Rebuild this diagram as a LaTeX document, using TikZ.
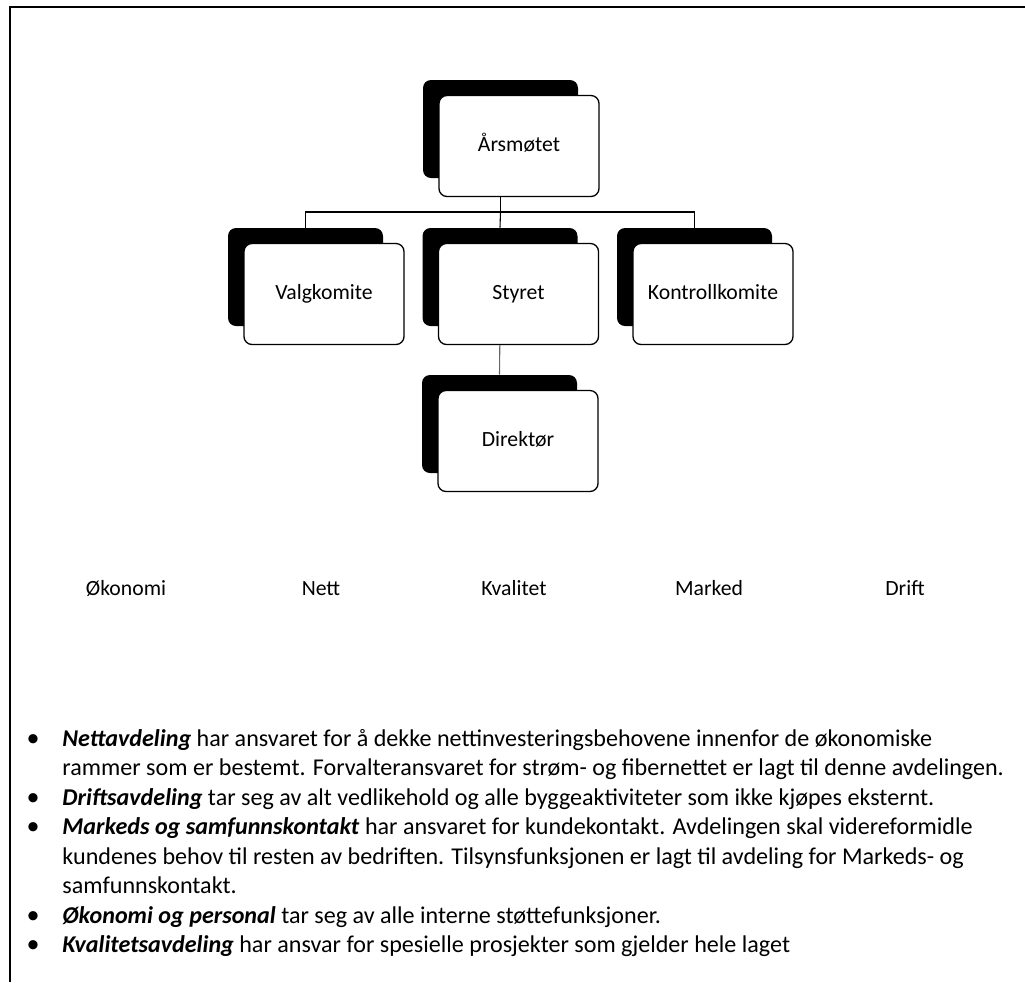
\documentclass[tikz,border=0pt]{standalone}
\usepackage{fontspec}
\setmainfont{Carlito}
\newcommand{\pxl}{0.4608pt}
\tikzset{
  skygge/.style={fill=black, rounded corners=8*\pxl, minimum width=155*\pxl, minimum height=98*\pxl, inner sep=0pt},
  boks/.style={draw=black, line width=0.6pt, fill=white, rounded corners=8*\pxl, minimum width=160*\pxl, minimum height=101*\pxl, inner sep=0pt, text height=6.8pt, text depth=2pt, font=\fontsize{10}{12}\selectfont},
  kobling/.style={line width=0.5pt},
  avd/.style={anchor=base, inner sep=0pt, font=\fontsize{10}{12}\selectfont},
  linje/.style={anchor=base west, inner sep=0pt, font=\fontsize{11.1}{13.4}\selectfont},
  prikk/.style={anchor=base, inner sep=0pt, font=\fontsize{12}{13.4}\selectfont},
}
\begin{document}
\begin{tikzpicture}[x=\pxl, y=-\pxl]
\useasboundingbox (0,0) rectangle (1025,982);
% ramme
\draw[line width=0.9pt] (10,982) -- (10,7) -- (1025,7);
% skygger
\node[skygge] (aars-s) at (500.5,129) {};
\node[skygge] (valg-s) at (305.5,277) {};
\node[skygge] (styret-s) at (500,277) {};
\node[skygge] (kontroll-s) at (694.5,277) {};
\node[skygge] (dir-s) at (499.5,424) {};
% linjer
\coordinate (grein) at (500.5,212);
\draw[kobling] (aars-s.south) -- (grein);
\draw[kobling] (valg-s.north) -- (valg-s.north |- grein) -- (kontroll-s.north |- grein) -- (kontroll-s.north);
\draw[kobling] (grein) -- (styret-s.north);
\draw[kobling, black!60] (styret-s.south) -- (dir-s.north);
% bokser
\node[boks] (aars) at (519,146) {Årsmøtet};
\node[boks] (valg) at (324,294) {Valgkomite};
\node[boks] (styret) at (518.5,294) {Styret};
\node[boks] (kontroll) at (713,294) {Kontrollkomite};
\node[boks] (dir) at (518,441) {Direktør};
% avdelinger
\foreach \navn/\x/\tekst in {okon/126/Økonomi, nett/321/Nett, kval/514/Kvalitet, marked/709/Marked, drift/905/Drift}
  \node[avd] (\navn) at (\x,595) {\tekst};
% tekst
\node[prikk] (p1) at (33,746) {•};
\node[linje] (n1) at (62,746) {\textbf{\textit{Nettavdeling}} har ansvaret for å dekke nettinvesteringsbehovene innenfor de økonomiske};
\node[linje] (n2) at (62,775.5) {rammer som er bestemt. Forvalteransvaret for strøm- og fibernettet er lagt til denne avdelingen.};
\node[prikk] (p2) at (33,805) {•};
\node[linje] (d1) at (62,805) {\textbf{\textit{Driftsavdeling}} tar seg av alt vedlikehold og alle byggeaktiviteter som ikke kjøpes eksternt.};
\node[prikk] (p3) at (33,834.5) {•};
\node[linje] (m1) at (62,834.5) {\textbf{\textit{Markeds og samfunnskontakt}} har ansvaret for kundekontakt. Avdelingen skal videreformidle};
\node[linje] (m2) at (62,864) {kundenes behov til resten av bedriften. Tilsynsfunksjonen er lagt til avdeling for Markeds- og};
\node[linje] (m3) at (62,893.5) {samfunnskontakt.};
\node[prikk] (p4) at (33,923) {•};
\node[linje] (o1) at (62,923) {\textbf{\textit{Økonomi og personal}} tar seg av alle interne støttefunksjoner.};
\node[prikk] (p5) at (33,952.5) {•};
\node[linje] (k1) at (62,952.5) {\textbf{\textit{Kvalitetsavdeling}} har ansvar for spesielle prosjekter som gjelder hele laget};
\end{tikzpicture}
\end{document}
